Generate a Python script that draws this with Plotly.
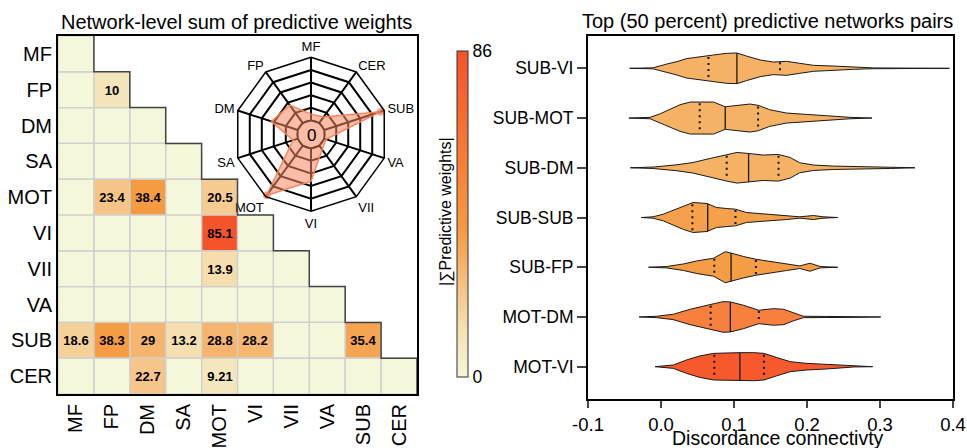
import numpy as np
import plotly.graph_objects as go

W, H = 967, 448
FONT = "Liberation Sans, Arial, sans-serif"

# ---------------- data ----------------
networks = ["MF", "FP", "DM", "SA", "MOT", "VI", "VII", "VA", "SUB", "CER"]

# lower-triangular network-level sums (row = network, columns up to diagonal)
weights = [
    [0],
    [0, 10],
    [0, 0, 0],
    [0, 0, 0, 0],
    [0, 23.4, 38.4, 0, 20.5],
    [0, 0, 0, 0, 85.1, 0],
    [0, 0, 0, 0, 13.9, 0, 0],
    [0, 0, 0, 0, 0, 0, 0, 0],
    [18.6, 38.3, 29, 13.2, 28.8, 28.2, 0, 0, 35.4],
    [0, 0, 22.7, 0, 9.21, 0, 0, 0, 0, 0],
]
color_max = 86

# radar
radar_values = [25, 88, 110, 20, 243, 132, 20, 8, 235, 30]
radar_max = 250

# violin panel
pairs = ["SUB-VI", "SUB-MOT", "SUB-DM", "SUB-SUB", "SUB-FP", "MOT-DM", "MOT-VI"]
x_ticks = [-0.1, 0.0, 0.1, 0.2, 0.3, 0.4]
medians = [0.104, 0.088, 0.120, 0.064, 0.096, 0.095, 0.108]
q1s = [0.065, 0.053, 0.090, 0.043, 0.073, 0.068, 0.073]
q3s = [0.163, 0.133, 0.161, 0.102, 0.130, 0.134, 0.141]

kde_x = [
    [-0.043, -0.011, 0.008, 0.022, 0.035, 0.053, 0.072, 0.090, 0.104, 0.117, 0.136,
     0.154, 0.172, 0.190, 0.209, 0.236, 0.264, 0.291, 0.318, 0.364, 0.395],
    [-0.044, -0.015, -0.001, 0.012, 0.026, 0.040, 0.053, 0.072, 0.088, 0.104, 0.122,
     0.133, 0.149, 0.172, 0.200, 0.227, 0.259, 0.289],
    [-0.042, -0.011, 0.022, 0.044, 0.067, 0.090, 0.104, 0.120, 0.140, 0.161, 0.177,
     0.190, 0.209, 0.236, 0.273, 0.314, 0.348],
    [-0.027, -0.011, 0.003, 0.017, 0.031, 0.044, 0.063, 0.076, 0.090, 0.102, 0.117,
     0.145, 0.172, 0.190, 0.209, 0.222, 0.242],
    [-0.017, 0.008, 0.031, 0.049, 0.072, 0.088, 0.097, 0.113, 0.130, 0.149, 0.172,
     0.190, 0.204, 0.218, 0.242],
    [-0.030, -0.006, 0.017, 0.040, 0.067, 0.085, 0.095, 0.113, 0.134, 0.154, 0.168,
     0.181, 0.195, 0.227, 0.273, 0.301],
    [-0.008, 0.017, 0.035, 0.053, 0.072, 0.090, 0.108, 0.127, 0.141, 0.158, 0.177,
     0.200, 0.227, 0.250, 0.264, 0.290],
]
kde_density = [
    [0, 0.5, 4.3, 6.7, 9.7, 11.7, 13.3, 15, 15.3, 12.3, 8.3, 6.3, 7, 5, 3, 2.3, 1, 0.4, 0.3, 0.3, 0],
    [0, 0.7, 4.3, 9, 13.3, 16, 16.3, 16, 11.3, 12.3, 14, 12.7, 8.3, 5, 3.3, 2.3, 0.7, 0],
    [0, 0.7, 3, 5.3, 9.3, 13.3, 15.3, 14.3, 12.7, 13.3, 10.3, 5, 2.7, 1.7, 1, 0.7, 0],
    [0, 0.7, 3.3, 7.3, 12, 15, 14, 10, 9, 8.3, 5, 3.3, 2, 0.7, 2, 0.7, 0],
    [0, 0.7, 3.3, 6.3, 9, 15.5, 14, 10.7, 8, 5.7, 3.3, 1.3, 4, 0.7, 0],
    [0, 0.7, 2.7, 7.7, 12.3, 15.3, 15, 11.7, 6.7, 8.3, 7.7, 4, 0.7, 0.5, 0.4, 0],
    [0, 1.7, 6.7, 10.7, 13.3, 14, 14, 14, 13.3, 9.3, 5, 3.3, 2.3, 1.3, 0.3, 0],
]

# ---------------- styles ----------------
colorscale = [
    [0.0, "#f4f7d9"], [0.15, "#f5e0b2"], [0.3, "#f5bd7c"],
    [0.45, "#f59b42"], [0.7, "#f67935"], [1.0, "#f5532a"],
]
pair_colors = ["#f5b265", "#f5b265", "#f5b265", "#f5a04a", "#f59d45", "#f7803f", "#f65a2c"]
density_scale = 1 / 49.7
RADAR_CX, RADAR_CY, RADAR_R, RADAR_HOLE = 311, 134.3, 77, 0.18
RADAR_FILL = "rgba(245,135,95,0.55)"


def px_x(p):
    return p / W


def px_y(p):
    return (H - p) / H


fig = go.Figure()

# ---------------- heatmap ----------------
n = len(networks)
z = [[None] * n for _ in range(n)]
txt = [[""] * n for _ in range(n)]
for i, row in enumerate(weights):
    for j, v in enumerate(row):
        z[i][j] = v
        txt[i][j] = f"{v:g}" if v > 0 else ""

fig.add_trace(go.Heatmap(
    z=z, x=list(range(n)), y=list(range(n)), text=txt,
    texttemplate="<b>%{text}</b>",
    textfont=dict(family=FONT, size=13, color="black"),
    colorscale=colorscale, zmin=0, zmax=color_max,
    hoverinfo="skip",
    colorbar=dict(
        x=px_x(457), xanchor="left", xpad=0,
        y=px_y(214), yanchor="middle", ypad=0,
        len=326, lenmode="pixels", thickness=11, thicknessmode="pixels",
        outlinewidth=1, outlinecolor="#333",
        tickvals=[0, color_max], ticktext=["0", str(color_max)],
        ticks="", tickfont=dict(family=FONT, size=17.5, color="black"),
    ),
    xaxis="x", yaxis="y",
))

shapes = []
for i, row in enumerate(weights):
    for j in range(len(row)):
        shapes.append(dict(type="rect", xref="x", yref="y",
                           x0=j - 0.5, x1=j + 0.5, y0=i - 0.5, y1=i + 0.5,
                           line=dict(color="#cfcfcf", width=1.2), layer="above"))
# staircase border
path = "M 0.5 -0.5"
for i in range(n):
    path += f" L {i + 0.5} {i + 0.5}"
    if i < n - 1:
        path += f" L {i + 1.5} {i + 0.5}"
shapes.append(dict(type="path", xref="x", yref="y", path=path,
                   line=dict(color="#444", width=1.5), layer="above"))

# radar centre (hole) filled like the polygon
hr = RADAR_R * RADAR_HOLE
shapes.append(dict(type="circle", xref="paper", yref="paper",
                   x0=px_x(RADAR_CX - hr), x1=px_x(RADAR_CX + hr),
                   y0=px_y(RADAR_CY + hr), y1=px_y(RADAR_CY - hr),
                   fillcolor=RADAR_FILL, line=dict(color="#7a4434", width=1.5),
                   layer="above"))

# ---------------- radar ----------------
sizes = [7 if v > 0.9 * radar_max else 0 for v in radar_values]
fig.add_trace(go.Scatterpolar(
    r=radar_values + [radar_values[0]], theta=networks + [networks[0]],
    mode="lines+markers", fill="toself",
    fillcolor=RADAR_FILL,
    line=dict(color="rgba(245,130,90,0.95)", width=1.5),
    marker=dict(size=sizes + [sizes[0]], color="rgba(245,120,80,1)"),
    hoverinfo="skip", showlegend=False,
))

# ---------------- violins ----------------
for k, name in enumerate(pairs):
    xs = np.array(kde_x[k])
    d = np.array(kde_density[k]) * density_scale
    xo = np.concatenate([xs, xs[::-1]])
    yo = np.concatenate([k - d, (k + d)[::-1]])
    fig.add_trace(go.Scatter(
        x=xo, y=yo, mode="lines", fill="toself", fillcolor=pair_colors[k],
        line=dict(color="#1a1a1a", width=1), hoverinfo="skip", showlegend=False,
        xaxis="x2", yaxis="y2",
    ))
    wm = np.interp(medians[k], xs, d)
    fig.add_trace(go.Scatter(
        x=[medians[k], medians[k]], y=[k - wm, k + wm], mode="lines",
        line=dict(color="#1a1a1a", width=1.3), hoverinfo="skip", showlegend=False,
        xaxis="x2", yaxis="y2",
    ))
    for q in (q1s[k], q3s[k]):
        wq = np.interp(q, xs, d)
        fig.add_trace(go.Scatter(
            x=[q, q], y=[k - wq * 0.9, k + wq * 0.9], mode="lines",
            line=dict(color="#111", width=2, dash="2px,4px"),
            hoverinfo="skip", showlegend=False, xaxis="x2", yaxis="y2",
        ))

# ---------------- layout ----------------
def ann(text, x, y, size, **kw):
    return dict(text=text, x=px_x(x), y=px_y(y), xref="paper", yref="paper",
                xanchor="center", yanchor="middle", showarrow=False,
                font=dict(family=FONT, size=size, color="black"), **kw)


annotations = [
    ann("Network-level sum of predictive weights", 236, 22, 20),
    ann("Top (50 percent) predictive networks pairs", 767, 21, 20),
    ann("|∑Predictive weights|", 446, 212, 16, textangle=-90),
    ann("0", RADAR_CX, RADAR_CY + 1, 17),
    ann("Discordance connectivty", 778, 438, 19.5),
]

fig.update_layout(
    width=W, height=H, margin=dict(l=0, r=0, t=0, b=0, autoexpand=False),
    paper_bgcolor="white", plot_bgcolor="white",
    font=dict(family=FONT, color="black"),
    showlegend=False,
    shapes=shapes, annotations=annotations,
    xaxis=dict(domain=[px_x(58), px_x(417)], range=[-0.5, n - 0.5],
               tickvals=list(range(n)), ticktext=networks, tickangle=-90,
               showgrid=False, zeroline=False, ticks="",
               showline=True, mirror=True, linecolor="black", linewidth=2,
               tickfont=dict(size=20), anchor="y"),
    yaxis=dict(domain=[px_y(394), px_y(36)], range=[n - 0.5, -0.5],
               tickvals=list(range(n)), ticktext=networks,
               showgrid=False, zeroline=False, ticks="",
               showline=True, mirror=True, linecolor="black", linewidth=2,
               tickfont=dict(size=20), anchor="x"),
    xaxis2=dict(domain=[px_x(588), px_x(953)], range=[-0.1, 0.4],
                tickvals=x_ticks, ticktext=[f"{v:.1f}" for v in x_ticks],
                ticks="outside", ticklen=7, tickwidth=2,
                ticklabelstandoff=1,
                showgrid=False, zeroline=False,
                showline=True, mirror=True, linecolor="black", linewidth=2,
                tickfont=dict(size=18.5), anchor="y2"),
    yaxis2=dict(domain=[px_y(399), px_y(36)], range=[6.65, -0.65],
                tickvals=list(range(len(pairs))), ticktext=pairs,
                ticks="outside", ticklen=9, tickwidth=2,
                showgrid=False, zeroline=False,
                showline=True, mirror=True, linecolor="black", linewidth=2,
                tickfont=dict(size=17.5), anchor="x2"),
    polar=dict(
        domain=dict(x=[px_x(RADAR_CX - RADAR_R), px_x(RADAR_CX + RADAR_R)],
                    y=[px_y(RADAR_CY + RADAR_R), px_y(RADAR_CY - RADAR_R)]),
        hole=RADAR_HOLE, gridshape="linear", bgcolor="rgba(0,0,0,0)",
        angularaxis=dict(direction="counterclockwise", rotation=90,
                         linecolor="black", linewidth=1.5,
                         gridcolor="black", gridwidth=1.5, ticks="",
                         tickfont=dict(family=FONT, size=13, color="black")),
        radialaxis=dict(range=[0, radar_max], dtick=radar_max / 5,
                        showticklabels=False, ticks="", showline=False,
                        gridcolor="black", gridwidth=1.5),
    ),
)

fig.write_html("out.html")
